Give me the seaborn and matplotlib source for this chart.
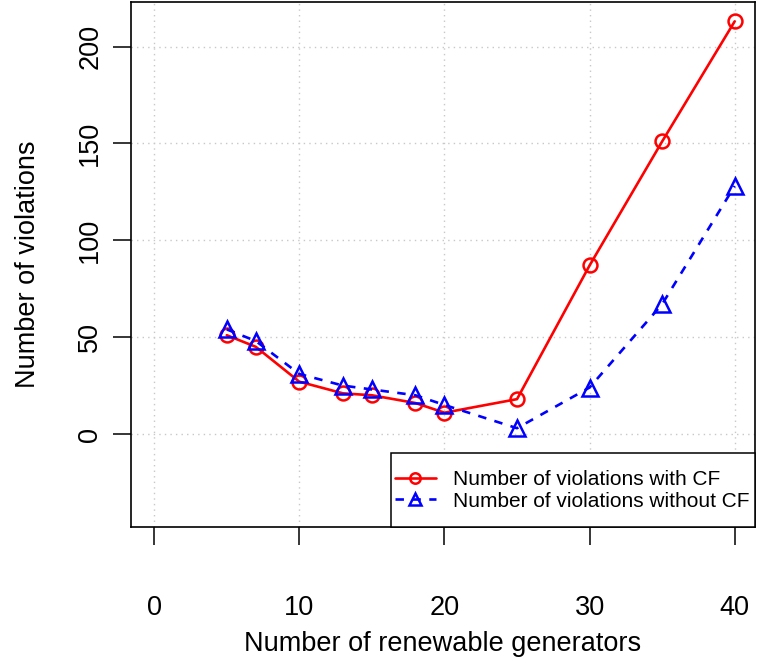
import numpy as np
import pandas as pd
import matplotlib
matplotlib.use("Agg")
import matplotlib.pyplot as plt
from matplotlib.patches import Rectangle
import seaborn as sns

# Number of renewable generators
generators = [5, 7, 10, 13, 15, 18, 20, 25, 30, 35, 40]
# Violations with and without CF
with_cf = [51, 45, 27, 21, 20, 16, 11, 18, 87, 151, 213]
without_cf = [54, 48, 31, 25, 23, 20, 15, 3, 24, 67, 128]

label_with = "Number of violations with CF"
label_without = "Number of violations without CF"

xticks = [0, 10, 20, 30, 40]
yticks = [0, 50, 100, 150, 200]

sns.set_style("white")
plt.rcParams["font.family"] = ["Liberation Sans", "DejaVu Sans"]
plt.rcParams["text.color"] = "black"
plt.rcParams["axes.labelcolor"] = "black"
plt.rcParams["xtick.color"] = "black"
plt.rcParams["ytick.color"] = "black"

W, H = 760, 660
L, R, T, B = 131, 755, 2, 527
fig = plt.figure(figsize=(W / 100, H / 100), dpi=100)
ax = fig.add_axes([L / W, (H - B) / H, (R - L) / W, (B - T) / H])

df = pd.DataFrame({"x": generators, "with": with_cf, "without": without_cf})

sns.lineplot(data=df, x="x", y="with", ax=ax, color="red", linewidth=1.9,
             marker="o", markersize=10, markerfacecolor="none",
             markeredgecolor="red", markeredgewidth=1.8, label=label_with)
sns.lineplot(data=df, x="x", y="without", ax=ax, color="blue", linewidth=1.9,
             linestyle=(0, (3.2, 3.2)), marker="^", markersize=12,
             markerfacecolor="none", markeredgecolor="blue",
             markeredgewidth=1.8, label=label_without)

ax.set_xlim(-1.6, 41.4)
ax.set_ylim(-48, 223)
ax.set_xticks(xticks)
ax.set_yticks(yticks)
ax.set_yticklabels([str(v) for v in yticks], rotation=90, va="center")
ax.tick_params(axis="both", which="both", direction="out", length=13,
               width=1.1, color="black", labelcolor="black", labelsize=19.5,
               bottom=True, left=True)
ax.tick_params(axis="x", pad=36)
ax.tick_params(axis="y", pad=7)

for v in xticks:
    ax.axvline(v, color="#c8c8c8", linestyle=(0, (1, 3)), linewidth=1, zorder=0)
for v in yticks:
    ax.axhline(v, color="#c8c8c8", linestyle=(0, (1, 3)), linewidth=1, zorder=0)

for s in ax.spines.values():
    s.set_color("black")
    s.set_linewidth(1.2)

ax.set_xlabel("Number of renewable generators", fontsize=19.5, labelpad=7,
              color="black")
ax.set_ylabel("Number of violations", fontsize=19.5, labelpad=26, color="black")

# Legend box in the lower right corner of the panel
box_left, box_top = 391, 453
ax.add_patch(Rectangle(((box_left - L) / (R - L), 0), 1 - (box_left - L) / (R - L),
                       (B - box_top) / (B - T), transform=ax.transAxes,
                       facecolor="white", edgecolor="black", linewidth=1.1,
                       zorder=5, clip_on=False))

leg = ax.legend(loc="center left",
                bbox_to_anchor=((395 - L) / (R - L), (B - 490.5) / (B - T)),
                fontsize=15, frameon=False, borderaxespad=0, borderpad=0,
                handlelength=1.95, handletextpad=0.85, labelspacing=0.1)
leg.set_zorder(6)
for t in leg.get_texts():
    t.set_color("black")
for h, ms in zip(leg.get_lines(), [7.5, 9]):
    h.set_markersize(ms)

fig.savefig("out.png", dpi=100)
